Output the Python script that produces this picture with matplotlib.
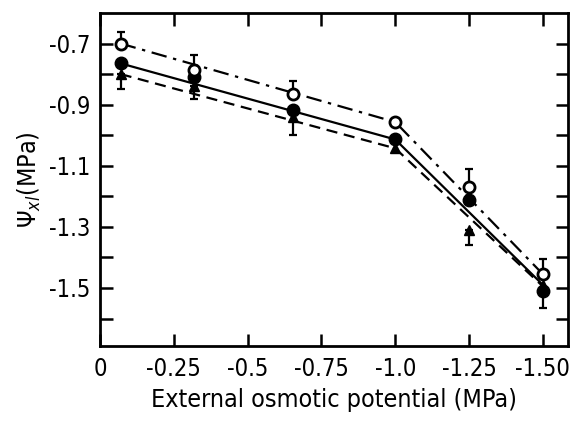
import numpy as np
import matplotlib
matplotlib.use("Agg")
import matplotlib.pyplot as plt

plt.rcParams['font.family'] = ['DejaVu Sans']
plt.rcParams['font.stretch'] = 'condensed'

# data
x = [-0.07, -0.32, -0.655, -1.0, -1.25, -1.5]
open_y = [-0.702, -0.787, -0.864, -0.957, -1.17, -1.454]
filled_y = [-0.764, -0.81, -0.918, -1.014, -1.211, -1.511]
tri_y = [-0.80, -0.84, -0.94, -1.043, -1.31, -1.49]
open_err_up = [0.04, 0.05, 0.04, 0.0, 0.06, 0.05]
filled_err_low = [0.0, 0.0, 0.08, 0.0, 0.0, 0.053]
tri_err_low = [0.05, 0.04, 0.0, 0.0, 0.05, 0.0]

# segmented fitted lines
fit_x = [-0.07, -1.0, -1.5]
open_fit = [-0.70, -0.957, -1.455]
filled_fit = [-0.765, -1.014, -1.49]
tri_fit = [-0.80, -1.043, -1.495]

xticks = [0, -0.25, -0.5, -0.75, -1.0, -1.25, -1.5]
xticklabels = ['0', '-0.25', '-0.5', '-0.75', '-1.0', '-1.25', '-1.50']
yticks = [-0.7, -0.9, -1.1, -1.3, -1.5]
yticklabels = ['-0.7', '-0.9', '-1.1', '-1.3', '-1.5']

fig = plt.figure(figsize=(5.7, 4.26), dpi=100)
ax = fig.add_axes([0.1754, 0.1878, 0.8211, 0.7817])

lw = 1.6
ax.plot(fit_x, open_fit, color='black', lw=lw, dashes=(7, 3, 1.5, 3))
ax.plot(fit_x, filled_fit, color='black', lw=lw, ls='-')
ax.plot(fit_x, tri_fit, color='black', lw=lw, dashes=(5, 3))

xa = np.array(x)
def eb(y, up, low):
    y = np.array(y); up = np.array(up); low = np.array(low)
    m = (up > 0) | (low > 0)
    ax.errorbar(xa[m], y[m], yerr=[low[m], up[m]], fmt='none', ecolor='black',
                elinewidth=1.6, capsize=3, capthick=1.6)

eb(open_y, open_err_up, np.zeros(6))
eb(filled_y, np.zeros(6), filled_err_low)
eb(tri_y, np.zeros(6), tri_err_low)

ax.plot(x, tri_y, ls='none', marker='^', ms=7.5, color='black', zorder=3)
ax.plot(x, filled_y, ls='none', marker='o', ms=9, color='black', zorder=4)
ax.plot(x, open_y, ls='none', marker='o', ms=8, mfc='white', mec='black', mew=2, zorder=5)

ax.set_xlim(0, -1.585)
ax.set_ylim(-1.69, -0.60)

ax.set_xticks(xticks)
ax.set_xticklabels(xticklabels)
ax.set_yticks(yticks)
ax.set_yticklabels(yticklabels)
ax.set_yticks(np.arange(-1.6, -0.75, 0.2), minor=True)

ax.tick_params(which='both', direction='in', length=9, width=1.8,
               top=True, right=True, labelsize=17)
ax.tick_params(axis='y', which='both', pad=7)
ax.tick_params(axis='x', which='both', pad=8)
for s in ax.spines.values():
    s.set_linewidth(2)

# right-side ticks at every 0.1
ax2 = ax.twinx()
ax2.set_ylim(ax.get_ylim())
ax2.set_yticks(np.arange(-1.6, -0.65, 0.1))
ax2.tick_params(axis='y', direction='in', length=9, width=1.8, labelright=False, right=True)
ax.tick_params(right=False)
for s in ax2.spines.values():
    s.set_visible(False)

ax.set_xlabel('External osmotic potential (MPa)', fontsize=18, labelpad=5)
ax.set_ylabel(r'$\Psi_{xl}$(MPa)', fontsize=18, labelpad=4)

fig.savefig('out.png', dpi=100)
